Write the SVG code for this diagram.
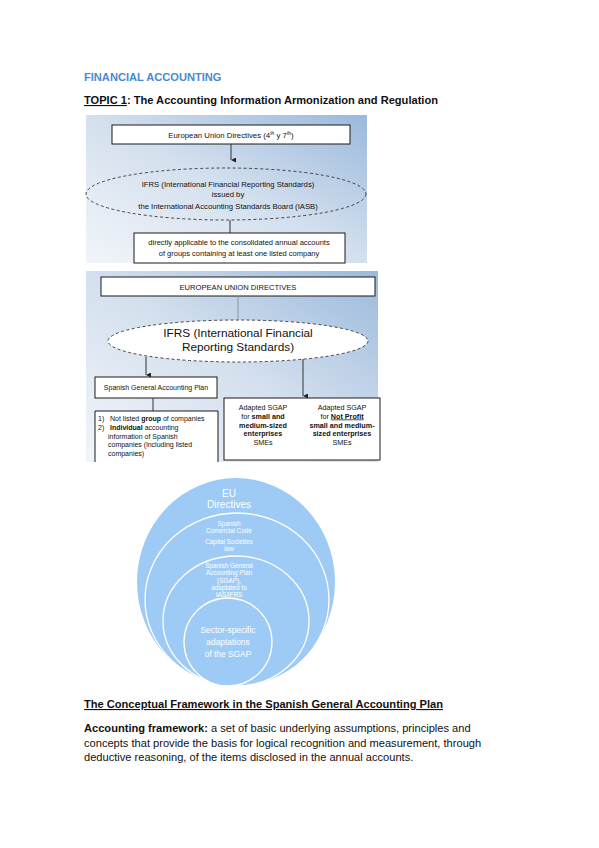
<svg xmlns="http://www.w3.org/2000/svg" width="599" height="848" viewBox="0 0 599 848">
<defs>
<linearGradient id="bg1" x1="0" y1="1" x2="1" y2="0">
<stop offset="0" stop-color="#f1f5f9"/>
<stop offset="0.5" stop-color="#d4e0ee"/>
<stop offset="1" stop-color="#9bb9dc"/>
</linearGradient>
<marker id="ah" viewBox="0 0 6 6" refX="3" refY="6" markerWidth="5" markerHeight="5" orient="auto-start-reverse" markerUnits="userSpaceOnUse">
<path d="M0,0 L3,6 L6,0 Z" fill="#222"/>
</marker>
<clipPath id="cc"><rect x="120" y="470" width="240" height="216"/></clipPath>
</defs>
<style>
.t{font-family:"Liberation Sans",Arial,sans-serif;fill:#111}
.b{font-weight:bold}
.box{fill:#fff;stroke:#1a1a1a;stroke-width:1}
.dash{stroke:#333;stroke-width:0.9;stroke-dasharray:3 2.5}
.ln{stroke:#333;stroke-width:1;fill:none}
.ct{font-family:"Liberation Sans",Arial,sans-serif;fill:#fff;text-anchor:middle}
.circ{fill:#9ecbf6;stroke:#fff;stroke-width:1.3}
</style>
<rect width="599" height="848" fill="#fff"/>

<g id="header">
<text class="t b" x="84" y="81" font-size="11.1" style="fill:#4a8ad0">FINANCIAL ACCOUNTING</text>
<text class="t b" x="84" y="104" font-size="11.1"><tspan text-decoration="underline">TOPIC 1</tspan>: The Accounting Information Armonization and Regulation</text>
</g>

<g id="diagram1">
<rect x="86" y="115" width="281" height="148" fill="url(#bg1)"/>
<g id="d1-eu">
<rect class="box" x="112" y="125" width="238" height="19"/>
<text class="t" x="231" y="137.5" font-size="7.8" text-anchor="middle">European Union Directives (4<tspan font-size="5" dy="-3">th</tspan><tspan dy="3"> y 7</tspan><tspan font-size="5" dy="-3">th</tspan><tspan dy="3">)</tspan></text>
</g>
<g id="d1-ifrs">
<ellipse cx="226" cy="194" rx="140" ry="26" fill="none" class="dash"/>
<text class="t" x="228" y="187" font-size="7.7" text-anchor="middle">IFRS (International Financial Reporting Standards)</text>
<text class="t" x="228" y="197" font-size="7.7" text-anchor="middle">issued by</text>
<text class="t" x="228" y="209" font-size="7.7" text-anchor="middle">the International Accounting Standards Board (IASB)</text>
</g>
<g id="d1-apply">
<rect class="box" x="134" y="233" width="211" height="30"/>
<text class="t" x="239" y="245" font-size="7.5" text-anchor="middle">directly applicable to the consolidated annual accounts</text>
<text class="t" x="239" y="256" font-size="7.5" text-anchor="middle">of groups containing at least one listed company</text>
</g>
<g id="d1-connectors">
<line class="ln" x1="231" y1="144" x2="231" y2="160" marker-end="url(#ah)"/>
<line class="ln" x1="230" y1="220" x2="230" y2="233"/>
</g>
</g>

<g id="diagram2">
<rect x="86" y="271" width="292" height="191" fill="url(#bg1)"/>
<g id="d2-eu">
<rect class="box" x="101" y="277" width="274" height="19"/>
<text class="t" x="238" y="289.5" font-size="7.6" text-anchor="middle">EUROPEAN UNION DIRECTIVES</text>
</g>
<g id="d2-ifrs">
<ellipse cx="238" cy="341" rx="130" ry="21" fill="#fff" class="dash"/>
<text class="t" x="238" y="337" font-size="11.8" text-anchor="middle">IFRS (International Financial</text>
<text class="t" x="238" y="351" font-size="11.8" text-anchor="middle">Reporting Standards)</text>
</g>
<g id="d2-sgap">
<rect class="box" x="95" y="377" width="122" height="21"/>
<text class="t" x="156" y="390" font-size="7" text-anchor="middle">Spanish General Accounting Plan</text>
</g>
<g id="d2-scope">
<path class="box" d="M95,462 V411 H218 V462"/>
<text class="t" x="98" y="421" font-size="7">1)</text>
<text class="t" x="110" y="421" font-size="7">Not listed <tspan class="b">group</tspan> of companies</text>
<text class="t" x="98" y="430" font-size="7">2)</text>
<text class="t b" x="110" y="430" font-size="7">Individual <tspan font-weight="normal">accounting</tspan></text>
<text class="t" x="108" y="438.5" font-size="7">information of Spanish</text>
<text class="t" x="108" y="447" font-size="7">companies (including listed</text>
<text class="t" x="108" y="455.5" font-size="7">companies)</text>
</g>
<g id="d2-smes">
<rect class="box" x="224" y="398" width="156" height="62"/>
<text class="t" x="263" y="409.5" font-size="7.2" text-anchor="middle">Adapted SGAP</text>
<text class="t" x="263" y="418.5" font-size="7.2" text-anchor="middle">for <tspan class="b">small and</tspan></text>
<text class="t b" x="263" y="427.5" font-size="7.2" text-anchor="middle">medium-sized</text>
<text class="t b" x="263" y="436" font-size="7.2" text-anchor="middle">enterprises</text>
<text class="t" x="263" y="444.5" font-size="7.2" text-anchor="middle">SMEs</text>
<text class="t" x="342" y="409.5" font-size="7.2" text-anchor="middle">Adapted SGAP</text>
<text class="t" x="342" y="418.5" font-size="7.2" text-anchor="middle">for <tspan class="b" text-decoration="underline">Not Profit</tspan></text>
<text class="t b" x="342" y="427.5" font-size="7.2" text-anchor="middle">small and medium-</text>
<text class="t b" x="342" y="436" font-size="7.2" text-anchor="middle">sized enterprises</text>
<text class="t" x="342" y="444.5" font-size="7.2" text-anchor="middle">SMEs</text>
</g>
<g id="d2-connectors">
<line x1="238" y1="296" x2="238" y2="321" stroke="#888" stroke-width="0.8"/>
<line class="ln" x1="146" y1="357" x2="146" y2="375" marker-end="url(#ah)"/>
<line class="ln" x1="303" y1="359" x2="303" y2="396" marker-end="url(#ah)"/>
<line class="ln" x1="153" y1="398" x2="153" y2="411"/>
</g>
</g>

<g id="diagram3" clip-path="url(#cc)">
<g id="c-eu">
<ellipse cx="236" cy="582" rx="99" ry="104" fill="#9ecbf6"/>
<text class="ct" x="229" y="497" font-size="10">EU</text>
<text class="ct" x="229" y="508" font-size="10">Directives</text>
</g>
<g id="c-code">
<ellipse class="circ" cx="237" cy="599.5" rx="92" ry="86.5"/>
<text class="ct" x="229" y="525.5" font-size="6.4">Spanish</text>
<text class="ct" x="229" y="532.5" font-size="6.4">Comercial Code</text>
<text class="ct" x="229" y="543.5" font-size="6.4">Capital Societies</text>
<text class="ct" x="229" y="550.5" font-size="6.4">law</text>
</g>
<g id="c-sgap">
<ellipse class="circ" cx="236" cy="621" rx="73" ry="65"/>
<text class="ct" x="229" y="567.5" font-size="6.4">Spanish General</text>
<text class="ct" x="229" y="575" font-size="6.4">Accounting Plan</text>
<text class="ct" x="229" y="582.5" font-size="6.4">(SGAP),</text>
<text class="ct" x="229" y="590" font-size="6.4">adaptated to</text>
<text class="ct" x="229" y="597" font-size="6.4">IAS/IFRS</text>
</g>
<g id="c-sector">
<ellipse class="circ" cx="228" cy="642" rx="44" ry="44"/>
<text class="ct" x="228" y="633" font-size="8.4">Sector-specific</text>
<text class="ct" x="228" y="645" font-size="8.4">adaptations</text>
<text class="ct" x="228" y="657" font-size="8.4">of the SGAP</text>
</g>
</g>

<g id="body">
<text class="t b" x="84" y="708" font-size="11.1" text-decoration="underline">The Conceptual Framework in the Spanish General Accounting Plan</text>
<text class="t" x="84" y="732" font-size="11.1"><tspan class="b">Accounting framework:</tspan> a set of basic underlying assumptions, principles and</text>
<text class="t" x="84" y="747" font-size="11.1">concepts that provide the basis for logical recognition and measurement, through</text>
<text class="t" x="84" y="761" font-size="11.1">deductive reasoning, of the items disclosed in the annual accounts.</text>
</g>
</svg>
